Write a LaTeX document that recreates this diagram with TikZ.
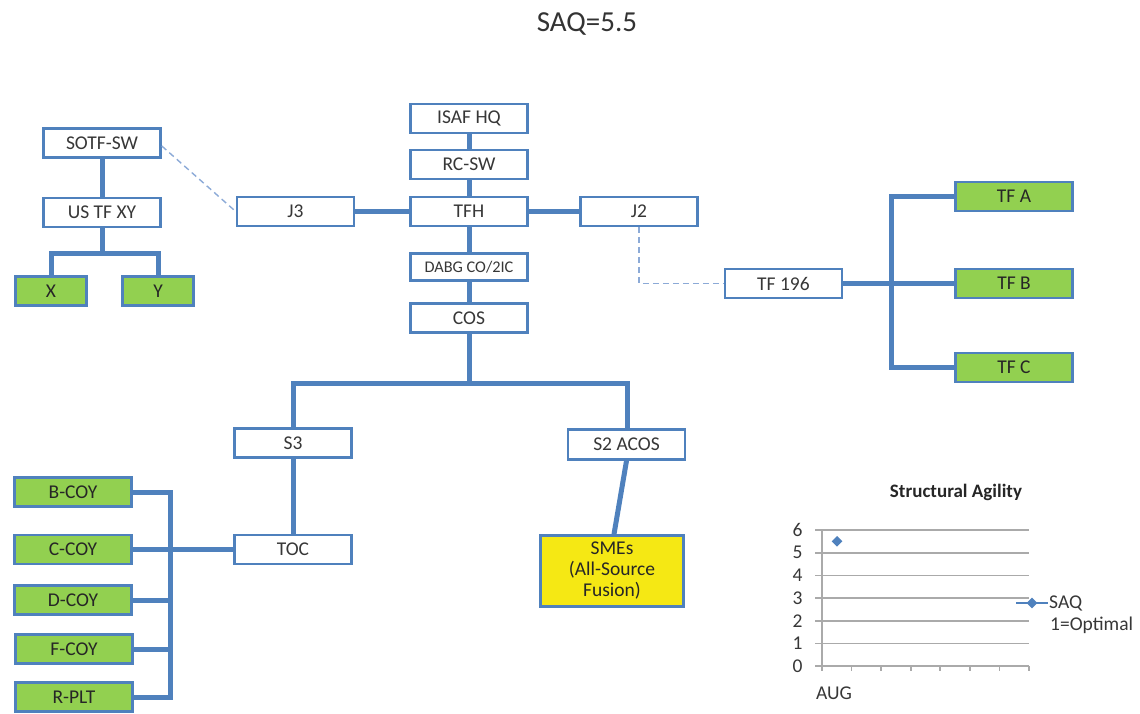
\documentclass[tikz,border=0pt]{standalone}
\usepackage{fontspec}
\setmainfont{Carlito}
\begin{document}
\definecolor{orgblue}{RGB}{79,129,189}
\definecolor{dashblue}{RGB}{140,170,215}
\definecolor{unitgreen}{RGB}{146,208,80}
\definecolor{smeyellow}{RGB}{245,232,20}
\definecolor{txtgrey}{RGB}{55,55,55}
\definecolor{gridgrey}{RGB}{170,170,170}
\begin{tikzpicture}[x=1pt,y=-1pt,
  box/.style={draw=orgblue, line width=2.6pt, fill=white, minimum width=117, minimum height=29,
    inner sep=0pt, text=txtgrey, font=\fontsize{19.5}{21}\selectfont},
  unit/.style={box, fill=unitgreen, text=black!85},
  link/.style={draw=orgblue, line width=5pt},
  dotlink/.style={draw=dashblue, line width=1.4pt, dash pattern=on 6pt off 4pt},
  grid/.style={draw=gridgrey, line width=1.6pt},
  axlabel/.style={text=txtgrey, font=\fontsize{19.5}{21}\selectfont},
  marker/.style={fill=orgblue, shape=rectangle, rotate=45, inner sep=0pt, minimum width=7.5pt, minimum height=7.5pt}]
\useasboundingbox (0,0) rectangle (1140,713);

% title
\node[text=black!80, font=\fontsize{29}{32}\selectfont] (title) at (587,24) {SAQ=5.5};

% command chain
\node[box] (isaf) at (469,118.5) {ISAF HQ};
\node[box] (rcsw) at (469,164.5) {RC-SW};
\node[box] (tfh)  at (469,211.5) {TFH};
\node[box, minimum height=27, font=\fontsize{16.3}{18}\selectfont] (dabg) at (469,267) {DABG CO/2IC};
\node[box] (cos)  at (469,318) {COS};
\node[box] (j3) at (295.5,211.5) {J3};
\node[box] (j2) at (639,211.5) {J2};

% left branch
\node[box] (sotf) at (102,143) {SOTF-SW};
\node[box] (ustf) at (102,212.5) {US TF XY};
\node[unit, minimum width=71] (x) at (51,291) {X};
\node[unit, minimum width=71] (y) at (158,291) {Y};

% right branch
\node[box] (tf196) at (783.5,283.5) {TF 196};
\node[unit] (tfa) at (1014,196.5) {TF A};
\node[unit] (tfb) at (1014,283.5) {TF B};
\node[unit] (tfc) at (1014,367.5) {TF C};

% staff sections
\node[box] (s3)  at (293,443) {S3};
\node[box] (toc) at (293,549.5) {TOC};
\node[box, minimum height=30] (s2) at (626.5,444.5) {S2 ACOS};
\node[box, fill=smeyellow, minimum width=143, minimum height=71, text=black!85,
  align=center, font=\fontsize{19.5}{21}\selectfont] (smes) at (612,571) {SMEs\\(All-Source\\Fusion)};

% companies
\node[unit] (bcoy) at (73,492) {B-COY};
\node[unit] (ccoy) at (73,549.5) {C-COY};
\node[unit] (dcoy) at (73,600) {D-COY};
\node[unit] (fcoy) at (74,649) {F-COY};
\node[unit] (rplt) at (74,697) {R-PLT};

% bus points
\coordinate (xybus)  at (102,253);
\coordinate (cosbus) at (469,383);
\coordinate (tfbus)  at (891,283.5);
\coordinate (coybus) at (170,549.5);

% solid connectors
\draw[link] (isaf) -- (rcsw);
\draw[link] (rcsw) -- (tfh);
\draw[link] (tfh) -- (dabg);
\draw[link] (dabg) -- (cos);
\draw[link] (j3) -- (tfh);
\draw[link] (tfh) -- (j2);
\draw[link] (sotf) -- (ustf);
\draw[link] (ustf) -- (xybus);
\draw[link] (x.north) |- (xybus) -| (y.north);
\draw[link] (cos) -- (cosbus);
\draw[link] (s3.north) |- (cosbus) -| ([xshift=0.5pt]s2.north);
\draw[link] (s3) -- (toc);
\draw[link] (s2.south) -- ([xshift=2pt]smes.north);
\draw[link] (tf196) -- (tfb);
\draw[link] (tfa.west) -| (tfbus) |- (tfc.west);
\draw[link] (toc) -- (ccoy);
\draw[link] (bcoy.east) -| (coybus) |- (rplt.east);
\draw[link] (dcoy.east) -- (dcoy.east -| coybus);
\draw[link] (fcoy.east) -- (fcoy.east -| coybus);

% dashed liaison links
\draw[dotlink] ([yshift=-3pt]sotf.east) -- (j3.west);
\draw[dotlink] (j2.south) |- (tf196.west);

% structural agility chart
\node[font=\bfseries\fontsize{19}{21}\selectfont, text=black!85] (charttitle) at (956,492) {Structural Agility};
\foreach \v/\yy in {0/666,1/643.3,2/620.7,3/598,4/575.3,5/552.7,6/530} {
  \draw[grid] (815,\yy) -- (1029,\yy);
  \node[axlabel, anchor=east] at (806,\yy) {\v};
}
\draw[grid] (822,530) -- (822,671);
\foreach \i in {0,...,7}
  \draw[grid] ({822+\i*29.57},666) -- ({822+\i*29.57},671);
\node[axlabel] (aug) at (834,693) {AUG};
\node[marker] (pt) at (837,541.3) {};
\draw[orgblue, line width=2.6pt] (1016,603) -- (1048,603);
\node[marker] (legpt) at (1032,603) {};
\node[axlabel, anchor=west, inner sep=1pt] (saq) at (1048,603) {SAQ};
\node[axlabel, anchor=west, inner sep=1pt] (opt) at (1049,625) {1=Optimal};
\end{tikzpicture}
\end{document}
